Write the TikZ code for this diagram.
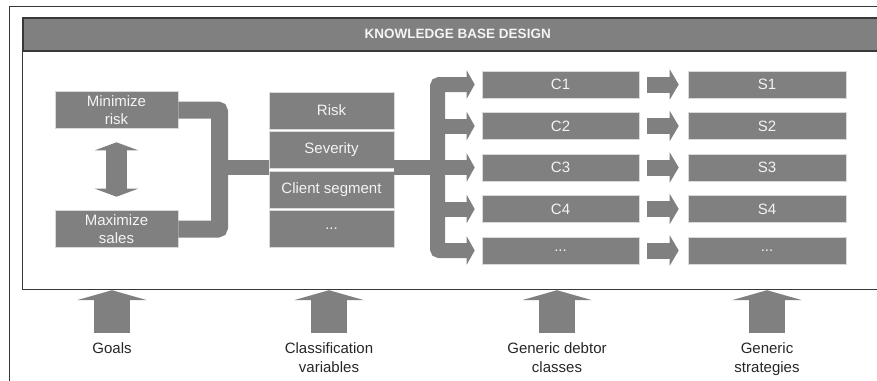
\documentclass[tikz,border=0pt]{standalone}
\usepackage{fontspec}
\setmainfont{Liberation Sans}
\usetikzlibrary{arrows.meta,positioning}

\definecolor{boxgray}{HTML}{808080}
\definecolor{framegray}{HTML}{383838}
\definecolor{txtwhite}{HTML}{F4F4F4}
\definecolor{txtdark}{HTML}{262626}

\newcommand\moredots{...}

\tikzset{
  kbox/.style={fill=boxgray, draw=gray!30, line width=0.6pt, text=txtwhite, inner sep=0pt,
    align=center, font=\fontsize{15}{18}\selectfont},
  goalbox/.style={kbox, minimum width=123pt, minimum height=37pt},
  varbox/.style={kbox, minimum width=125pt, minimum height=37pt},
  classbox/.style={kbox, minimum width=157pt, minimum height=27pt},
  stratbox/.style={kbox, minimum width=158pt, minimum height=27pt},
  footlabel/.style={text=txtdark, inner sep=0pt, align=center, font=\fontsize{15}{19}\selectfont},
  band/.style={draw=boxgray, line width=#1},
  Dbl/.tip={Triangle[length=8pt,width=43pt]},
  Branch/.tip={Triangle[length=8pt,width=28pt]},
  Pass/.tip={Triangle[length=9pt,width=30pt]},
  Lift/.tip={Triangle[length=10pt,width=70pt]}
}

\begin{document}
\begin{tikzpicture}[x=1pt,y=-1pt]
  \clip (0,0) rectangle (877,380);
  % frames
  \draw[framegray, line width=0.8pt] (9,395) -- (9,6) -- (895,6);
  \node[draw=framegray, line width=1.2pt, inner sep=0pt, minimum width=870pt, minimum height=272pt,
    anchor=north west] (kbase) at (22,17) {};
  \node[fill=boxgray, draw=framegray, line width=1.5pt, inner sep=0pt, minimum width=870pt,
    minimum height=33pt, anchor=north west, text=txtwhite,
    font=\bfseries\fontsize{13.5}{14}\selectfont] (header) at (22,17) {KNOWLEDGE BASE DESIGN};

  % goals
  \node[goalbox] (minrisk) at (116.5,110) {Minimize\\risk};
  \node[goalbox] (maxsales) at (116.5,229) {Maximize\\sales};
  \draw[band=21pt, Dbl-Dbl, shorten <=13.5pt, shorten >=13.5pt] (minrisk.south) -- (maxsales.north);

  % classification variables
  \foreach \txt [count=\i] in {Risk,Severity,Client segment,\moredots}
    \node[varbox] (var\i) at (331.5,{71+39.5*\i}) {\txt};

  % debtor classes and strategies
  \foreach \txt [count=\i] in {C1,C2,C3,C4,\moredots}
    \node[classbox] (class\i) at (560.5,{43+41.5*\i}) {\txt};
  \foreach \txt [count=\i] in {S1,S2,S3,S4,\moredots}
    \node[stratbox] (strat\i) at (767,{43+41.5*\i}) {\txt};

  % connectors
  \coordinate (goaljoin) at (219.5,167.5);
  \coordinate (classjoin) at (437.5,167.5);
  \draw[band=17pt, rounded corners=2pt] (minrisk.east) -| (goaljoin) |- (maxsales.east);
  \draw[band=15pt] (goaljoin) -- (goaljoin -| var1.west);
  \draw[band=15pt] (var1.east |- classjoin) -- (classjoin);
  \draw[band=15pt, rounded corners=2pt, Branch-Branch, shorten <=7pt, shorten >=7pt]
    (class1.west) -| (classjoin) |- (class5.west);
  \foreach \i in {2,3,4}
    \draw[band=15pt, -Branch, shorten >=7pt] (classjoin |- class\i) -- (class\i.west);
  \foreach \i in {1,...,5}
    \draw[band=16pt, -Pass, shorten <=8pt, shorten >=9pt] (class\i.east) -- (strat\i.west);

  % bottom labels
  \node[footlabel, anchor=north] (goals) at (112,342) {Goals};
  \node[footlabel, anchor=north] (classvars) at (329,342) {Classification\\variables};
  \node[footlabel, anchor=north] (debtors) at (557,342) {Generic debtor\\classes};
  \node[footlabel, anchor=north] (strategies) at (767,342) {Generic\\strategies};
  \foreach \name in {goals,classvars,debtors,strategies}
    \draw[band=36pt, -Lift, shorten <=9pt] (\name.north) -- (\name.north |- kbase.south);
\end{tikzpicture}
\end{document}
